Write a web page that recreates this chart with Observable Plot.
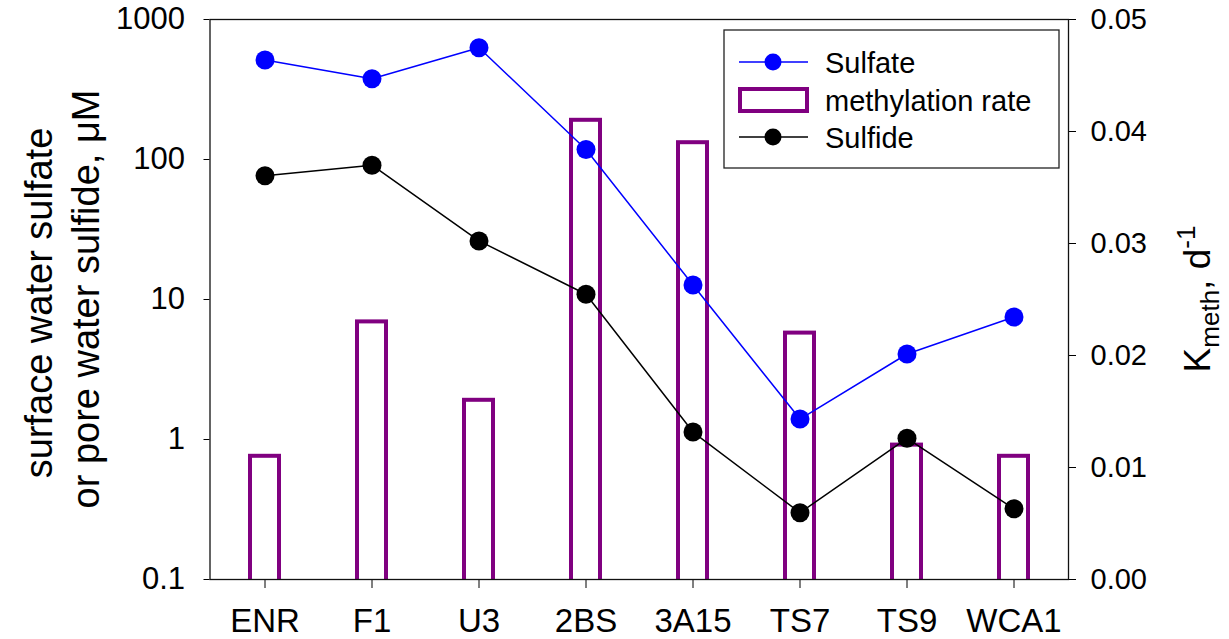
<!DOCTYPE html>
<html>
<head>
<meta charset="utf-8">
<script src="https://cdn.jsdelivr.net/npm/d3@7"></script>
<script src="https://cdn.jsdelivr.net/npm/@observablehq/plot@0.6"></script>
<style>
  html, body { margin: 0; padding: 0; background: #fff; }
  #chart { position: relative; width: 1229px; height: 639px; background: #fff; }
  #chart svg { position: absolute; left: 0; top: 0; }
</style>
</head>
<body>
<div id="chart"></div>
<script>
// Sampling sites along the transect
const sites = ["ENR", "F1", "U3", "2BS", "3A15", "TS7", "TS9", "WCA1"];
// Surface water sulfate, µM (left, log axis)
const sulfate = [513, 377, 628, 118, 12.7, 1.40, 4.08, 7.5];
// Pore water sulfide, µM (left, log axis)
const sulfide = [76.5, 91, 26.2, 10.9, 1.13, 0.30, 1.02, 0.32];
// Methylation rate constant K_meth, d^-1 (right axis)
const methylation = [0.011, 0.023, 0.016, 0.041, 0.039, 0.022, 0.012, 0.011];
// Axis tick values
const leftTicks = [0.1, 1, 10, 100, 1000];
const rightTicks = [0, 0.01, 0.02, 0.03, 0.04, 0.05];

const W = 1229, H = 639;
const M = {marginTop: 19, marginRight: 161, marginBottom: 60, marginLeft: 209.5};
const FONT = '"Liberation Sans", Arial, Helvetica, sans-serif';

const rows = sites.map((site, i) => ({
  site, sulfate: sulfate[i], sulfide: sulfide[i], rate: methylation[i]
}));

// Layer 1: methylation-rate bars against the right-hand linear axis
const barPlot = Plot.plot({
  width: W, height: H, ...M,
  style: {background: "transparent", fontFamily: FONT, fontSize: "29px", color: "#000", overflow: "visible"},
  x: {type: "band", domain: sites, padding: 0, axis: null},
  y: {domain: [0, 0.05], axis: "right", ticks: rightTicks, tickFormat: d3.format(".2f"),
      tickSize: 7, tickPadding: 15, label: null},
  marks: [
    Plot.barY(rows, {
      x: "site", y: "rate", fill: "none", stroke: "#800080", strokeWidth: 4,
      insetLeft: 39, insetRight: 39, insetBottom: -8, clip: true
    })
  ]
});

// Layer 2: sulfate and sulfide series against the left-hand log axis
const linePlot = Plot.plot({
  width: W, height: H, ...M,
  style: {background: "transparent", fontFamily: FONT, fontSize: "31px", color: "#000", overflow: "visible"},
  x: {type: "band", domain: sites, padding: 0, tickSize: 9, tickPadding: 20, label: null},
  y: {type: "log", domain: [0.1, 1000], ticks: leftTicks, tickFormat: d => String(d),
      tickSize: 6, tickPadding: 19, label: null},
  marks: [
    Plot.frame({stroke: "#111", strokeWidth: 1.3}),
    Plot.line(rows, {x: "site", y: "sulfide", stroke: "#000", strokeWidth: 1.5}),
    Plot.dot(rows, {x: "site", y: "sulfide", r: 9.5, fill: "#000", stroke: "none"}),
    Plot.line(rows, {x: "site", y: "sulfate", stroke: "#0000ff", strokeWidth: 1.5}),
    Plot.dot(rows, {x: "site", y: "sulfate", r: 9.5, fill: "#0000ff", stroke: "none"})
  ]
});

const chart = document.getElementById("chart");
chart.appendChild(barPlot);
chart.appendChild(linePlot);

const svg = d3.select(linePlot);

// Category labels slightly larger than the numeric ticks
svg.selectAll('[aria-label^="x-axis"]').style("font-size", "33px");
svg.selectAll('[aria-label^="x-axis"] text').style("font-size", "33px");

const cy = M.marginTop + (H - M.marginTop - M.marginBottom) / 2;

// Left axis title (two lines)
const leftTitle = svg.append("g")
  .attr("font-family", FONT).attr("font-size", 38).attr("fill", "#000").attr("text-anchor", "middle");
leftTitle.append("text").attr("transform", `translate(52,${cy + 4}) rotate(-90)`).text("surface water sulfate");
leftTitle.append("text").attr("transform", `translate(99,${cy}) rotate(-90)`).text("or pore water sulfide, μM");

// Right axis title: K_meth, d^-1
const rt = svg.append("text")
  .attr("transform", `translate(1210,${cy}) rotate(-90)`)
  .attr("font-family", FONT).attr("font-size", 37).attr("fill", "#000").attr("text-anchor", "middle");
rt.append("tspan").text("K");
rt.append("tspan").attr("font-size", 26).attr("dy", 9).text("meth");
rt.append("tspan").attr("dy", -9).text(", d");
rt.append("tspan").attr("font-size", 26).attr("dy", -15).text("-1");

// Legend
const lg = svg.append("g").attr("font-family", FONT).attr("font-size", 29)
  .attr("fill", "#000").attr("text-anchor", "start");
lg.append("rect").attr("x", 724).attr("y", 30).attr("width", 335).attr("height", 138)
  .attr("fill", "#fff").attr("stroke", "#222").attr("stroke-width", 1.3);
// Sulfate entry
lg.append("line").attr("x1", 739).attr("x2", 808).attr("y1", 62).attr("y2", 62)
  .attr("stroke", "#0000ff").attr("stroke-width", 1.5);
lg.append("circle").attr("cx", 773).attr("cy", 62).attr("r", 8.5).attr("fill", "#0000ff");
lg.append("text").attr("x", 825).attr("y", 73).text("Sulfate");
// Methylation rate entry
lg.append("rect").attr("x", 740).attr("y", 89).attr("width", 67).attr("height", 22)
  .attr("fill", "none").attr("stroke", "#800080").attr("stroke-width", 4);
lg.append("text").attr("x", 825).attr("y", 111).text("methylation rate");
// Sulfide entry
lg.append("line").attr("x1", 739).attr("x2", 808).attr("y1", 137).attr("y2", 137)
  .attr("stroke", "#000").attr("stroke-width", 1.5);
lg.append("circle").attr("cx", 773).attr("cy", 137).attr("r", 8.5).attr("fill", "#000");
lg.append("text").attr("x", 825).attr("y", 148).text("Sulfide");
</script>
</body>
</html>
